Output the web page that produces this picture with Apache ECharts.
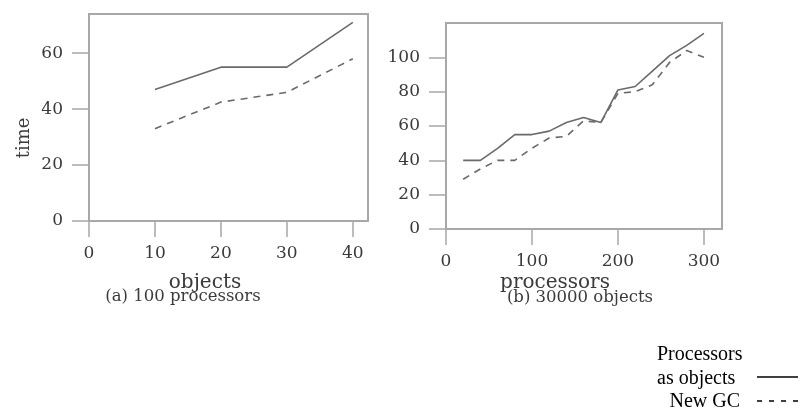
<!DOCTYPE html>
<html>
<head>
<meta charset="utf-8">
<script src="https://cdn.jsdelivr.net/npm/echarts@6/dist/echarts.min.js"></script>
<style>
  html, body { margin: 0; padding: 0; background: #fff; }
  #chart { width: 801px; height: 415px; }
</style>
</head>
<body>
<div id="chart"></div>
<script>
// (a) 100 processors
const objectsX      = [10, 20, 30, 40]
const objectsProc   = [47, 55, 55, 71]
const objectsNewGC  = [33, 42.5, 46, 58]
const objectsTicksX = [0, 10, 20, 30, 40]
const timeTicksA    = [0, 20, 40, 60]

// (b) 30000 objects
const procX      = [20, 40, 60, 80, 100, 120, 140, 160, 180, 200, 220, 240, 260, 280, 300]
const procProc   = [40, 40, 47, 55, 55, 57, 62, 65, 62, 81, 83, 92, 101, 107, 114]
const procNewGC  = [29, 35, 40, 40, 47, 53, 54, 63, 62, 79, 80, 84, 97, 104, 100]
const procTicksX = [0, 100, 200, 300]
const timeTicksB = [0, 20, 40, 60, 80, 100]

const LINE  = '#6a6a6a'
const FRAME = '#a8a8a8'
const TEXT  = '#3a3a3a'
const SERIF = 'DejaVu Serif'

const chart = echarts.init(document.getElementById('chart'), null, { renderer: 'canvas' })

function xAxisOf(grid, max, ticks) {
  return {
    type: 'value', gridIndex: grid, min: 0, max,
    axisLine: { show: true, onZero: false, lineStyle: { color: FRAME, width: 2 } },
    axisTick: { show: true, length: 16, customValues: ticks, lineStyle: { color: FRAME, width: 1.5 } },
    axisLabel: { customValues: ticks, margin: 24, color: TEXT, fontFamily: SERIF, fontSize: 17 },
    splitLine: { show: false },
  }
}
function yAxisOf(grid, max, ticks) {
  return {
    type: 'value', gridIndex: grid, min: 0, max,
    axisLine: { show: true, onZero: false, lineStyle: { color: FRAME, width: 2 } },
    axisTick: { show: true, length: 17, customValues: ticks, lineStyle: { color: FRAME, width: 1.5 } },
    axisLabel: { customValues: ticks, margin: 26, color: TEXT, fontFamily: SERIF, fontSize: 17 },
    splitLine: { show: false },
  }
}
function lineOf(name, xs, ys, axis, dashed) {
  return {
    type: 'line', name, xAxisIndex: axis, yAxisIndex: axis,
    data: xs.map((x, i) => [x, ys[i]]),
    symbol: 'none', silent: true,
    lineStyle: { color: LINE, width: 1.6, type: dashed ? [7, 6] : 'solid' },
  }
}
function label(text, x, y, opts = {}) {
  return {
    type: 'text', x, y, rotation: opts.rotation || 0,
    style: {
      text, fill: opts.fill || TEXT, font: (opts.size || 17) + 'px "' + (opts.family || SERIF) + '"',
      align: opts.align || 'center', verticalAlign: 'middle',
    },
  }
}

const option = {
  backgroundColor: '#fff',
  animation: false,
  grid: [
    { left: 89, top: 14, width: 279, height: 207, show: true, borderColor: FRAME, borderWidth: 2 },
    { left: 446, top: 23, width: 276, height: 206, show: true, borderColor: FRAME, borderWidth: 2 },
  ],
  xAxis: [xAxisOf(0, 42.3, objectsTicksX), xAxisOf(1, 321, procTicksX)],
  yAxis: [yAxisOf(0, 74, timeTicksA), yAxisOf(1, 120, timeTicksB)],
  series: [
    lineOf('Processors as objects', objectsX, objectsProc, 0, false),
    lineOf('New GC', objectsX, objectsNewGC, 0, true),
    lineOf('Processors as objects', procX, procProc, 1, false),
    lineOf('New GC', procX, procNewGC, 1, true),
  ],
  graphic: [
    label('time', 24, 138, { rotation: Math.PI / 2, size: 18 }),
    label('objects', 205, 283, { size: 20 }),
    label('(a) 100 processors', 183, 297, { size: 16.5 }),
    label('processors', 555, 283, { size: 20 }),
    label('(b) 30000 objects', 580, 298, { size: 16.5 }),
    // legend
    label('Processors', 657, 355, { align: 'left', fill: '#000', family: 'Liberation Serif', size: 20 }),
    label('as objects', 657, 379, { align: 'left', fill: '#000', family: 'Liberation Serif', size: 20 }),
    label('New GC', 740, 402, { align: 'right', fill: '#000', family: 'Liberation Serif', size: 20 }),
    { type: 'line', shape: { x1: 757, y1: 377, x2: 798, y2: 377 }, style: { stroke: '#000', lineWidth: 1.5 } },
    { type: 'line', shape: { x1: 757, y1: 401, x2: 798, y2: 401 }, style: { stroke: '#000', lineWidth: 1.5, lineDash: [5, 7] } },
  ],
}
chart.setOption(option)
</script>
</body>
</html>
